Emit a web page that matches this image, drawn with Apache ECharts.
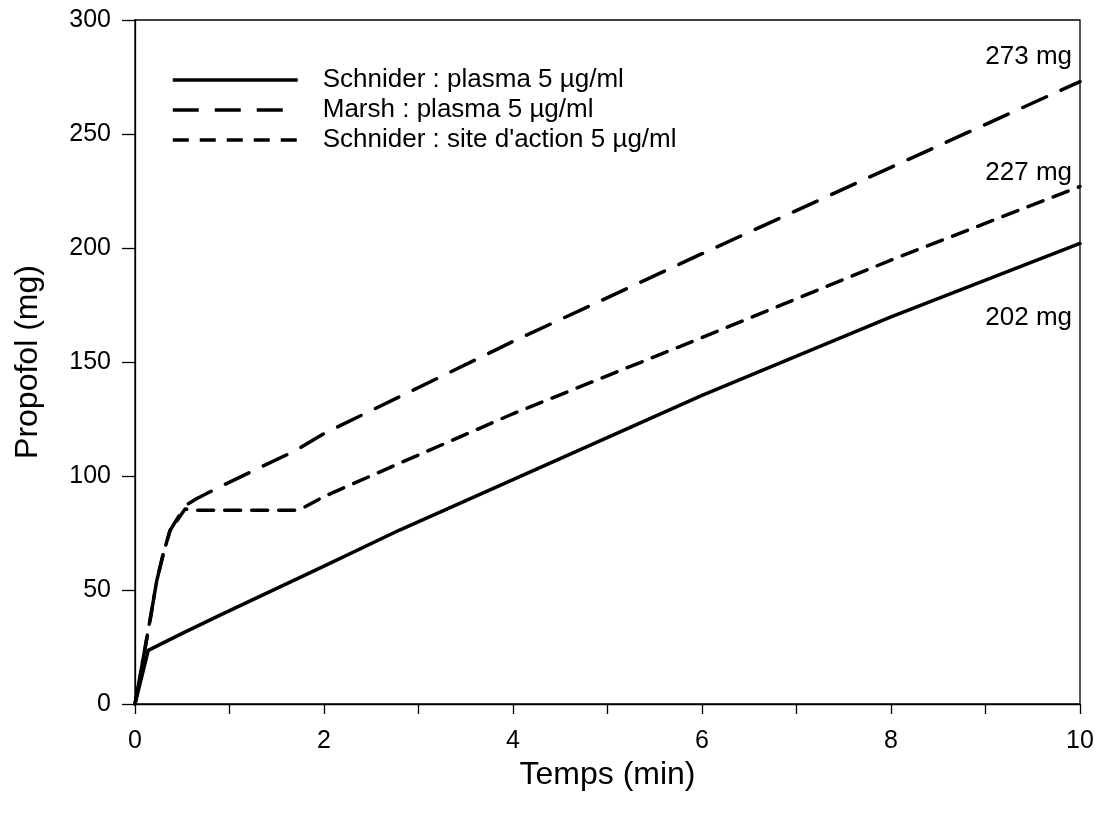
<!DOCTYPE html>
<html>
<head>
<meta charset="utf-8">
<script src="https://cdn.jsdelivr.net/npm/echarts@6/dist/echarts.min.js"></script>
<style>html,body{margin:0;padding:0;background:#fff}#c{width:1107px;height:818px}</style>
</head>
<body>
<div id="c"></div>
<script>
// Data
var seriesNames = ['Schnider : plasma 5 \u00b5g/ml', 'Marsh : plasma 5 \u00b5g/ml', "Schnider : site d'action 5 \u00b5g/ml"];
var schniderPlasmaT = [0, 0.14, 0.5, 0.9, 2, 2.8, 4, 6, 8, 10];
var schniderPlasmaV = [0, 23.5, 31, 39, 60.5, 76.3, 98.4, 135.4, 169.8, 202];
var marshT = [0, 0.1, 0.16, 0.23, 0.3, 0.37, 0.53, 0.65, 0.9, 1.71, 2, 4, 6, 8, 10];
var marshV = [0, 23, 37, 54, 66, 76, 87, 90, 95.3, 111.4, 118.6, 159, 197.5, 235.4, 273];
var schniderSiteT = [0, 0.1, 0.16, 0.23, 0.3, 0.37, 0.53, 0.6, 1.1, 1.7, 1.8, 2, 2.8, 4, 6, 8, 10];
var schniderSiteV = [0, 23, 37, 54, 66, 76, 85.5, 85, 85, 85, 86.5, 91, 105.6, 127.3, 160.7, 194.7, 227];
var xTicks = [0, 2, 4, 6, 8, 10];
var yTicks = [0, 50, 100, 150, 200, 250, 300];

function pairs(t, v) { return t.map(function (x, i) { return [x, v[i]]; }); }

var font = 'Liberation Sans, Arial, sans-serif';
var lineW = 3.5;
var dashTypes = ['solid', [26, 16], [16, 11]];

function endMark(t, v, dy) {
  var last = v[v.length - 1];
  return {
    symbol: 'circle', symbolSize: 0, silent: true,
    label: {
      show: true, position: 'inside', align: 'right', verticalAlign: 'middle',
      offset: [-8, dy], color: '#000', fontSize: 26, fontFamily: font,
      formatter: function () { return Math.round(last) + ' mg'; }
    },
    data: [{ coord: [t[t.length - 1], last] }]
  };
}

var chart = echarts.init(document.getElementById('c'), null, { renderer: 'canvas' });
chart.setOption({
  backgroundColor: '#fff',
  animation: false,
  grid: { left: 135, right: 27, top: 20, bottom: 114, show: true, borderColor: '#000', borderWidth: 1.3, backgroundColor: 'transparent' },
  legend: {
    orient: 'vertical', left: 166, top: 62,
    itemWidth: 125, itemHeight: 14, itemGap: 4,
    itemStyle: { color: 'rgba(0,0,0,0)', borderWidth: 0, opacity: 0 },
    textStyle: { fontSize: 26, fontFamily: font, color: '#000', padding: [0, 0, 0, 20] },
    data: seriesNames.map(function (n, i) {
      return { name: n, lineStyle: { width: lineW, type: dashTypes[i], cap: 'butt', color: '#000' } };
    })
  },
  xAxis: {
    type: 'value', min: 0, max: 10, interval: 1,
    name: 'Temps (min)', nameLocation: 'middle', nameGap: 47,
    nameTextStyle: { fontSize: 32, fontFamily: font, color: '#000' },
    axisLine: { show: true, onZero: false, lineStyle: { color: '#000', width: 1.3 } },
    axisTick: { show: true, inside: false, length: 10, lineStyle: { color: '#000', width: 1.3 } },
    axisLabel: {
      margin: 25, fontSize: 25, fontFamily: font, color: '#000',
      formatter: function (val) { return xTicks.indexOf(val) >= 0 ? String(val) : ''; }
    },
    splitLine: { show: false }
  },
  yAxis: {
    type: 'value', min: 0, max: 300, interval: 50,
    name: 'Propofol (mg)', nameLocation: 'middle', nameGap: 91, nameRotate: 90,
    nameTextStyle: { fontSize: 32, fontFamily: font, color: '#000' },
    axisLine: { show: true, onZero: false, lineStyle: { color: '#000', width: 1.3 } },
    axisTick: { show: true, inside: false, length: 13, lineStyle: { color: '#000', width: 1.3 } },
    axisLabel: {
      margin: 24, fontSize: 25, fontFamily: font, color: '#000',
      formatter: function (val) { return yTicks.indexOf(val) >= 0 ? String(val) : ''; }
    },
    splitLine: { show: false }
  },
  series: [
    {
      name: seriesNames[0], type: 'line', data: pairs(schniderPlasmaT, schniderPlasmaV),
      showSymbol: false, symbol: 'none', smooth: false, color: '#000',
      lineStyle: { color: '#000', width: lineW, type: dashTypes[0], cap: 'round', join: 'round' },
      markPoint: endMark(schniderPlasmaT, schniderPlasmaV, 74)
    },
    {
      name: seriesNames[1], type: 'line', data: pairs(marshT, marshV),
      showSymbol: false, symbol: 'none', smooth: false, color: '#000',
      lineStyle: { color: '#000', width: lineW, type: dashTypes[1], cap: 'round', join: 'round' },
      markPoint: endMark(marshT, marshV, -25)
    },
    {
      name: seriesNames[2], type: 'line', data: pairs(schniderSiteT, schniderSiteV),
      showSymbol: false, symbol: 'none', smooth: false, color: '#000',
      lineStyle: { color: '#000', width: lineW, type: dashTypes[2], cap: 'round', join: 'round' },
      markPoint: endMark(schniderSiteT, schniderSiteV, -14)
    }
  ]
});
</script>
</body>
</html>
